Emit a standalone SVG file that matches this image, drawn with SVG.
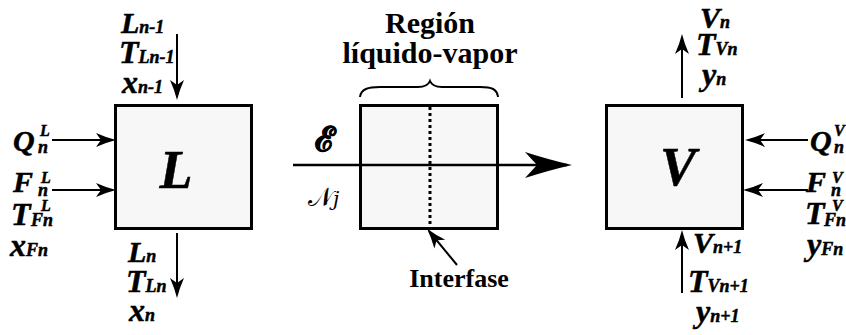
<svg xmlns="http://www.w3.org/2000/svg" width="846" height="335" viewBox="0 0 846 335">
<style>
.m{font-family:"Liberation Serif","Times New Roman",serif;font-weight:bold;font-style:italic;fill:#000;stroke:#000;stroke-width:0.5}
.b{font-size:30px}.t{font-size:32px}.s{font-size:18px}.p{font-size:16px}
.lbl{font-family:"Liberation Serif","Times New Roman",serif;font-weight:bold;fill:#000}
.box{fill:#f7f7f7;stroke:#000;stroke-width:3}
.ln{stroke:#000;stroke-width:2;fill:none}
</style>
<defs>
<marker id="ah" viewBox="-22 -8 24 16" refX="-3" refY="0" markerWidth="24" markerHeight="16" markerUnits="userSpaceOnUse" orient="auto">
<path d="M0,0 Q-10,-2.5 -20,-7 L-15,0 L-20,7 Q-10,2.5 0,0 Z" fill="#000"/>
</marker>
<marker id="big" viewBox="-50 -15 52 30" refX="-5" refY="0" markerWidth="52" markerHeight="30" markerUnits="userSpaceOnUse" orient="auto">
<path d="M0,0 Q-22,-5 -47,-13 L-35,0 L-47,13 Q-22,5 0,0 Z" fill="#000"/>
</marker>
</defs>

<g id="nodeL">
<rect class="box" x="115.5" y="105.5" width="136" height="123"/>
<text class="m" x="176" y="188" font-size="54" text-anchor="middle">L</text>
</g>

<g id="nodeMid">
<rect class="box" x="360.5" y="105.5" width="137" height="123"/>
<line x1="430" y1="107" x2="430" y2="227" stroke="#000" stroke-width="3" stroke-dasharray="3,3"/>
<path class="ln" d="M360,97 C361,89 368,87 380,87 L418,87 C424,87 428,86 430,81 C432,86 436,87 442,87 L480,87 C492,87 497,89 498,97"/>
<text class="lbl" x="430" y="33" font-size="30" text-anchor="middle">Región</text>
<text class="lbl" x="430" y="63" font-size="30" text-anchor="middle">líquido-vapor</text>
<text class="lbl" x="459" y="287" font-size="26" text-anchor="middle">Interfase</text>
<text x="315" y="151" font-family="DejaVu Serif,serif" font-weight="bold" font-size="34" stroke="#000" stroke-width="0.8">ℰ</text>
<text x="308" y="206" font-family="DejaVu Serif,serif" font-size="26">𝒩<tspan font-style="italic" font-size="20">j</tspan></text>
</g>

<g id="nodeV">
<rect class="box" x="606.5" y="105.5" width="136" height="123"/>
<text class="m" x="678" y="185" font-size="54" text-anchor="middle">V</text>
</g>

<g id="connectors">
<line class="ln" x1="177" y1="34" x2="177" y2="97" marker-end="url(#ah)"/>
<line class="ln" x1="177" y1="233" x2="177" y2="295" marker-end="url(#ah)"/>
<line class="ln" x1="52" y1="140" x2="113" y2="140" marker-end="url(#ah)"/>
<line class="ln" x1="52" y1="190" x2="113" y2="190" marker-end="url(#ah)"/>
<line x1="293" y1="165" x2="567" y2="165" stroke="#000" stroke-width="2.5" marker-end="url(#big)"/>
<line class="ln" x1="457" y1="265" x2="429" y2="231" marker-end="url(#ah)"/>
<line class="ln" x1="682" y1="98" x2="682" y2="37" marker-end="url(#ah)"/>
<line class="ln" x1="682" y1="293" x2="682" y2="233" marker-end="url(#ah)"/>
<line class="ln" x1="808" y1="140" x2="748" y2="140" marker-end="url(#ah)"/>
<line class="ln" x1="808" y1="190" x2="746" y2="190" marker-end="url(#ah)"/>
</g>

<g id="labelsL">
<text class="m b" x="121" y="33">L<tspan class="s">n-1</tspan></text>
<text class="m t" x="119" y="63">T<tspan class="s">Ln-1</tspan></text>
<text class="m t" x="122" y="93">x<tspan class="s">n-1</tspan></text>
<text class="m b" x="128" y="262">L<tspan class="s">n</tspan></text>
<text class="m t" x="126" y="292">T<tspan class="s">Ln</tspan></text>
<text class="m t" x="129" y="321">x<tspan class="s">n</tspan></text>
<text class="m b" x="13" y="151">Q<tspan class="p" x="40" y="136">L</tspan><tspan class="s" x="38" y="153">n</tspan></text>
<text class="m b" x="13" y="192">F<tspan class="p" x="41" y="183">L</tspan><tspan class="s" x="38" y="196">n</tspan></text>
<text class="m t" x="11" y="225">T<tspan class="p" x="41" y="211">L</tspan><tspan class="s" x="31" y="226">Fn</tspan></text>
<text class="m t" x="10" y="256">x<tspan class="s">Fn</tspan></text>
</g>

<g id="labelsV">
<text class="m b" x="700" y="28">V<tspan class="s">n</tspan></text>
<text class="m t" x="696" y="55">T<tspan class="s">Vn</tspan></text>
<text class="m t" x="702" y="85">y<tspan class="s">n</tspan></text>
<text class="m b" x="693" y="253">V<tspan class="s">n+1</tspan></text>
<text class="m t" x="688" y="292">T<tspan class="s">Vn+1</tspan></text>
<text class="m t" x="696" y="322">y<tspan class="s">n+1</tspan></text>
<text class="m b" x="810" y="151">Q<tspan class="p" x="834" y="136">V</tspan><tspan class="s" x="834" y="153">n</tspan></text>
<text class="m b" x="806" y="192">F<tspan class="p" x="832" y="183">V</tspan><tspan class="s" x="831" y="196">n</tspan></text>
<text class="m t" x="805" y="224">T<tspan class="p" x="832" y="211">V</tspan><tspan class="s" x="824" y="226">Fn</tspan></text>
<text class="m t" x="807" y="255">y<tspan class="s">Fn</tspan></text>
</g>
</svg>
